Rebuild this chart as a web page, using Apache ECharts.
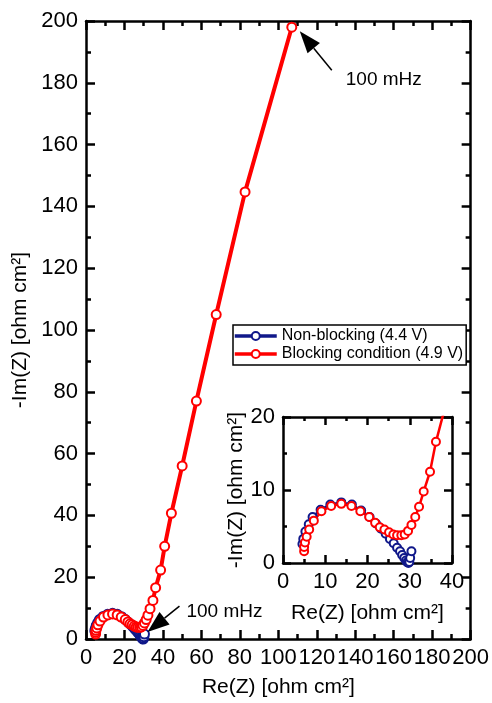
<!DOCTYPE html>
<html>
<head>
<meta charset="utf-8">
<script src="https://cdn.jsdelivr.net/npm/echarts@6/dist/echarts.min.js"></script>
<style>
  html, body { margin: 0; padding: 0; background: #fff; }
  #chart { width: 492px; height: 703px; }
</style>
</head>
<body>
<div id="chart"></div>
<script>
// Non-blocking (4.4 V)
var nonBlockingRe = [4.6, 4.8, 5.3, 6.1, 7.0, 8.9, 11.2, 13.8, 16.3, 18.5, 20.5, 22.0, 23.2, 24.3, 25.3, 26.2, 27.0, 27.7, 28.2, 28.7, 29.1, 29.4, 29.7, 29.9, 30.1, 30.4];
var nonBlockingIm = [2.6, 3.3, 4.3, 5.3, 6.3, 7.3, 8.0, 8.3, 8.0, 7.2, 6.3, 5.4, 4.7, 4.0, 3.3, 2.7, 2.1, 1.6, 1.1, 0.7, 0.35, 0.1, 0.0, 0.15, 0.7, 1.6];
// Blocking condition (4.9 V)
var blockingRe = [5.0, 5.0, 5.2, 5.6, 6.2, 7.3, 9.1, 11.4, 13.8, 16.2, 18.3, 20.4, 21.8, 22.9, 24.0, 25.1, 26.1, 27.0, 28.0, 28.8, 29.6, 30.4, 31.3, 32.2, 33.3, 34.8, 36.2, 38.8, 40.9, 44.4, 50.0, 57.4, 67.7, 82.7, 107.0];
var blockingIm = [1.6, 2.2, 2.8, 3.6, 4.6, 5.8, 7.1, 7.8, 8.1, 7.8, 7.1, 6.3, 5.5, 4.9, 4.6, 4.2, 3.9, 3.8, 3.8, 3.9, 4.4, 5.2, 6.3, 7.7, 9.8, 12.5, 16.6, 22.3, 30.0, 40.7, 56.0, 77.0, 105.0, 144.7, 198.0];

var seriesNames = ['Non-blocking (4.4 V)', 'Blocking condition (4.9 V)'];
var seriesColors = ['#10188a', '#ff0000'];
var axisTitleX = 'Re(Z) [ohm cm\u00b2]';
var axisTitleY = '-Im(Z) [ohm cm\u00b2]';
var noteText = '100 mHz';

var FONT = 'Liberation Sans, Arial, sans-serif';

function zip(xs, ys) {
  return xs.map(function (x, i) { return [x, ys[i]]; });
}

// axis with inward major + minor ticks
function axis(gridIndex, position, max, interval, showLabel, tickLen, extra) {
  var a = {
    type: 'value',
    gridIndex: gridIndex,
    position: position,
    min: 0,
    max: max,
    interval: interval,
    splitLine: { show: false },
    axisLine: { show: true, onZero: false, lineStyle: { color: '#000', width: 2.5 } },
    axisTick: { show: true, inside: true, length: tickLen, lineStyle: { color: '#000', width: 2.5 } },
    minorTick: { show: true, splitNumber: 2, length: Math.round(tickLen * 0.55), lineStyle: { color: '#000', width: 2.5 } },
    axisLabel: {
      show: showLabel, color: '#000', fontSize: 22, fontFamily: FONT, margin: 8,
      showMinLabel: true, showMaxLabel: true
    }
  };
  for (var k in extra) a[k] = extra[k];
  return a;
}

function lineSeries(i, xIdx, yIdx, xs, ys, symSize, width) {
  return {
    name: seriesNames[i],
    type: 'line',
    xAxisIndex: xIdx,
    yAxisIndex: yIdx,
    data: zip(xs, ys),
    symbol: 'circle',
    symbolSize: symSize,
    showAllSymbol: true,
    clip: true,
    color: seriesColors[i],
    itemStyle: { color: '#fff', borderColor: seriesColors[i], borderWidth: 2 },
    lineStyle: { color: seriesColors[i], width: width }
  };
}

var chart = echarts.init(document.getElementById('chart'));

var option = {
  animation: false,
  backgroundColor: '#fff',
  textStyle: { fontFamily: FONT },
  grid: [
    { left: 86, top: 21, right: 19, bottom: 63 },
    { left: 283, top: 417, right: 40, bottom: 140, show: true, backgroundColor: '#fff', borderWidth: 0 }
  ],
  xAxis: [
    axis(0, 'bottom', 200, 20, true, 9, {
      name: axisTitleX, nameLocation: 'middle', nameGap: 38,
      nameTextStyle: { color: '#000', fontSize: 21, fontFamily: FONT }
    }),
    axis(0, 'top', 200, 20, false, 9, {}),
    axis(1, 'bottom', 40, 10, true, 8, {
      name: axisTitleX, nameLocation: 'middle', nameGap: 40,
      nameTextStyle: { color: '#000', fontSize: 21, fontFamily: FONT }
    }),
    axis(1, 'top', 40, 10, false, 8, {})
  ],
  yAxis: [
    axis(0, 'left', 200, 20, true, 9, {
      name: axisTitleY, nameLocation: 'middle', nameGap: 54,
      nameTextStyle: { color: '#000', fontSize: 21, fontFamily: FONT }
    }),
    axis(0, 'right', 200, 20, false, 9, {}),
    axis(1, 'left', 20, 10, true, 8, {
      name: axisTitleY, nameLocation: 'middle', nameGap: 34,
      nameTextStyle: { color: '#000', fontSize: 21, fontFamily: FONT }
    }),
    axis(1, 'right', 20, 10, false, 8, {})
  ],
  legend: {
    data: seriesNames,
    orient: 'vertical',
    left: 233,
    top: 325,
    padding: [3, 3, 3, 0],
    itemGap: 2,
    itemWidth: 42,
    itemHeight: 10,
    borderColor: '#000',
    borderWidth: 1.5,
    borderRadius: 0,
    backgroundColor: '#fff',
    lineStyle: { width: 3.5 },
    textStyle: { color: '#000', fontSize: 16, fontFamily: FONT },
    z: 10
  },
  series: [
    lineSeries(0, 0, 0, nonBlockingRe, nonBlockingIm, 9, 3),
    lineSeries(1, 0, 0, blockingRe, blockingIm, 9, 4),
    lineSeries(0, 2, 2, nonBlockingRe, nonBlockingIm, 8, 2.5),
    lineSeries(1, 2, 2, blockingRe, blockingIm, 8, 2.5)
  ]
};

chart.setOption(option);

// arrows pointing to the 100 mHz points
function arrow(tail, tip) {
  var dx = tip[0] - tail[0], dy = tip[1] - tail[1];
  var len = Math.sqrt(dx * dx + dy * dy);
  var ux = dx / len, uy = dy / len;
  var head = 22, half = 8;
  var bx = tip[0] - ux * head, by = tip[1] - uy * head;
  return [
    { type: 'line', shape: { x1: tail[0], y1: tail[1], x2: bx, y2: by }, style: { stroke: '#000', lineWidth: 1.5 }, z: 20 },
    { type: 'polygon', shape: { points: [tip, [bx - uy * half, by + ux * half], [bx + uy * half, by - ux * half]] }, style: { fill: '#000' }, z: 20 }
  ];
}

var nLast = blockingRe.length - 1;
var pTop = chart.convertToPixel({ gridIndex: 0 }, [blockingRe[nLast], blockingIm[nLast]]);
var bLast = nonBlockingRe.length - 1;
var pLow = chart.convertToPixel({ gridIndex: 0 }, [nonBlockingRe[bLast], nonBlockingIm[bLast]]);

var graphics = []
  .concat(arrow([pTop[0] + 40, pTop[1] + 43], [pTop[0] + 8, pTop[1] + 4]))
  .concat(arrow([pLow[0] + 35, pLow[1] - 28], [pLow[0] + 3, pLow[1] - 2]));
graphics.push({ type: 'text', x: pTop[0] + 54, y: pTop[1] + 53, style: { text: noteText, fill: '#000', font: '19px ' + FONT, textVerticalAlign: 'middle' }, z: 20 });
graphics.push({ type: 'text', x: pLow[0] + 42, y: pLow[1] - 22, style: { text: noteText, fill: '#000', font: '19px ' + FONT, textVerticalAlign: 'middle' }, z: 20 });

chart.setOption({ graphic: graphics });
window.onresize = chart.resize;
</script>
</body>
</html>
